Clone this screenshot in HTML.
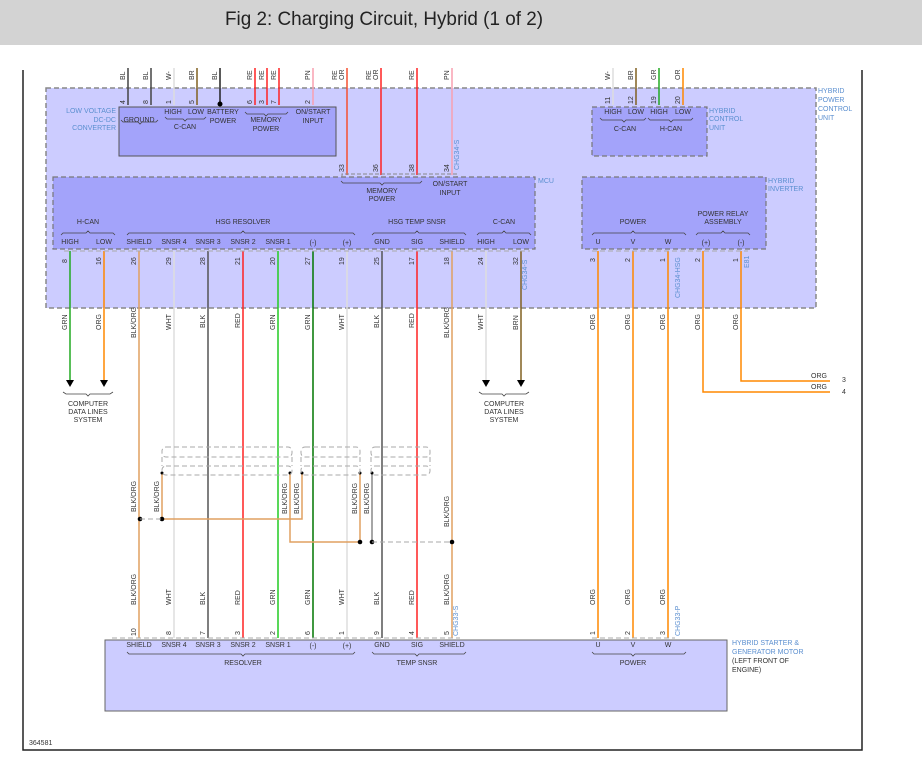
<!DOCTYPE html>
<html><head><meta charset="utf-8"><style>
html,body{margin:0;padding:0;background:#fff;}
svg{display:block;font-family:"Liberation Sans",sans-serif;}
.t{font-size:7px;fill:#333;}
.tb{font-size:7px;fill:#5b8fd0;}
.p{font-size:7px;fill:#333;}
</style></head><body>
<svg width="922" height="780" viewBox="0 0 922 780" xmlns="http://www.w3.org/2000/svg">
<rect x="0" y="0" width="922" height="45" fill="#d3d3d3"/>
<text x="225" y="25" font-size="19" fill="#222" textLength="318" lengthAdjust="spacingAndGlyphs">Fig 2: Charging Circuit, Hybrid (1 of 2)</text>
<path d="M23 70 V750 H862 V70" fill="none" stroke="#222" stroke-width="1.5"/>
<rect x="46" y="88" width="770" height="220" fill="#ccccff" stroke="#888" stroke-width="1.5" stroke-dasharray="5,3"/>
<text class="tb" x="818" y="93">HYBRID</text><text class="tb" x="818" y="102">POWER</text><text class="tb" x="818" y="111">CONTROL</text><text class="tb" x="818" y="120">UNIT</text>
<rect x="119" y="107" width="217" height="49" fill="#a3a3fa" stroke="#555" stroke-width="1"/>
<text class="tb" x="116" y="113" text-anchor="end">LOW VOLTAGE</text><text class="tb" x="116" y="122" text-anchor="end">DC-DC</text><text class="tb" x="116" y="130" text-anchor="end">CONVERTER</text>
<rect x="53" y="177" width="482" height="72" fill="#a3a3fa" stroke="#777" stroke-width="1.2" stroke-dasharray="5,3"/>
<text class="tb" x="538" y="183">MCU</text>
<rect x="592" y="107" width="115" height="49" fill="#a3a3fa" stroke="#777" stroke-width="1.2" stroke-dasharray="5,3"/>
<text class="tb" x="709" y="113">HYBRID</text><text class="tb" x="709" y="121">CONTROL</text><text class="tb" x="709" y="130">UNIT</text>
<rect x="582" y="177" width="184" height="72" fill="#a3a3fa" stroke="#777" stroke-width="1.2" stroke-dasharray="5,3"/>
<text class="tb" x="768" y="183">HYBRID</text><text class="tb" x="768" y="191">INVERTER</text>
<rect x="105" y="640" width="622" height="71" fill="#ccccff" stroke="#666" stroke-width="1"/>
<text class="tb" x="732" y="645">HYBRID STARTER &amp;</text><text class="tb" x="732" y="654">GENERATOR MOTOR</text><text class="t" x="732" y="663">(LEFT FRONT OF</text><text class="t" x="732" y="672">ENGINE)</text>

<g stroke-width="1.5" fill="none">
<line x1="128" y1="68" x2="128" y2="105" stroke="#444"/>
<line x1="151" y1="68" x2="151" y2="105" stroke="#444"/>
<line x1="174" y1="68" x2="174" y2="105" stroke="#ddd"/>
<line x1="197" y1="68" x2="197" y2="105" stroke="#806020"/>
<line x1="220" y1="68" x2="220" y2="104" stroke="#222"/>
<line x1="255" y1="68" x2="255" y2="105" stroke="#f22"/>
<line x1="267" y1="68" x2="267" y2="105" stroke="#f22"/>
<line x1="279" y1="68" x2="279" y2="105" stroke="#f22"/>
<line x1="313" y1="68" x2="313" y2="105" stroke="#f8a0b0"/>
<line x1="347" y1="68" x2="347" y2="175" stroke="#f55030"/>
<line x1="381" y1="68" x2="381" y2="175" stroke="#f22"/>
<line x1="417" y1="68" x2="417" y2="175" stroke="#f22"/>
<line x1="452" y1="68" x2="452" y2="175" stroke="#f8a0b0"/>
<line x1="613" y1="68" x2="613" y2="105" stroke="#ddd"/>
<line x1="636" y1="68" x2="636" y2="105" stroke="#806020"/>
<line x1="659" y1="68" x2="659" y2="105" stroke="#2a2"/>
<line x1="683" y1="68" x2="683" y2="105" stroke="#f80"/>
</g>
<circle cx="220" cy="104" r="2.5" fill="#000"/>
<path d="M342 177 V174 H457 V177" fill="none" stroke="#888" stroke-dasharray="4,2" stroke-width="1"/>
<g class="t">
<text transform="translate(125,80) rotate(-90)">BL</text>
<text transform="translate(148,80) rotate(-90)">BL</text>
<text transform="translate(171,80) rotate(-90)">W-</text>
<text transform="translate(194,80) rotate(-90)">BR</text>
<text transform="translate(217,80) rotate(-90)">BL</text>
<text transform="translate(252,80) rotate(-90)">RE</text>
<text transform="translate(264,80) rotate(-90)">RE</text>
<text transform="translate(276,80) rotate(-90)">RE</text>
<text transform="translate(310,80) rotate(-90)">PN</text>
<text transform="translate(337,80) rotate(-90)">RE</text><text transform="translate(344,80) rotate(-90)">OR</text>
<text transform="translate(371,80) rotate(-90)">RE</text><text transform="translate(378,80) rotate(-90)">OR</text>
<text transform="translate(414,80) rotate(-90)">RE</text>
<text transform="translate(449,80) rotate(-90)">PN</text>
<text transform="translate(610,80) rotate(-90)">W-</text>
<text transform="translate(633,80) rotate(-90)">BR</text>
<text transform="translate(656,80) rotate(-90)">GR</text>
<text transform="translate(680,80) rotate(-90)">OR</text>
<text transform="translate(125,104) rotate(-90)">4</text>
<text transform="translate(148,104) rotate(-90)">8</text>
<text transform="translate(171,104) rotate(-90)">1</text>
<text transform="translate(194,104) rotate(-90)">5</text>
<text transform="translate(252,104) rotate(-90)">6</text>
<text transform="translate(264,104) rotate(-90)">3</text>
<text transform="translate(276,104) rotate(-90)">7</text>
<text transform="translate(310,104) rotate(-90)">2</text>
<text transform="translate(344,172) rotate(-90)">33</text>
<text transform="translate(378,172) rotate(-90)">36</text>
<text transform="translate(414,172) rotate(-90)">38</text>
<text transform="translate(449,172) rotate(-90)">34</text>
<text transform="translate(610,104) rotate(-90)">11</text>
<text transform="translate(633,104) rotate(-90)">12</text>
<text transform="translate(656,104) rotate(-90)">19</text>
<text transform="translate(680,104) rotate(-90)">20</text>
</g>
<text class="tb" transform="translate(459,170) rotate(-90)">CHG34-S</text>
<g class="t" text-anchor="middle">
<text x="139" y="122">GROUND</text>
<text x="173" y="114">HIGH</text><text x="196" y="114">LOW</text><text x="185" y="129">C-CAN</text>
<text x="223" y="114">BATTERY</text><text x="223" y="123">POWER</text>
<text x="266" y="122">MEMORY</text><text x="266" y="131">POWER</text>
<text x="313" y="114">ON/START</text><text x="313" y="123">INPUT</text>
<text x="382" y="193">MEMORY</text><text x="382" y="201">POWER</text>
<text x="450" y="186">ON/START</text><text x="450" y="195">INPUT</text>
<text x="613" y="114">HIGH</text><text x="636" y="114">LOW</text><text x="659" y="114">HIGH</text><text x="683" y="114">LOW</text>
<text x="625" y="131">C-CAN</text><text x="671" y="131">H-CAN</text>
<text x="88" y="224">H-CAN</text>
<text x="243" y="224">HSG RESOLVER</text>
<text x="417" y="224">HSG TEMP SNSR</text>
<text x="504" y="224">C-CAN</text>
<text x="70" y="244">HIGH</text><text x="104" y="244">LOW</text>
<text x="139" y="244">SHIELD</text><text x="174" y="244">SNSR 4</text><text x="208" y="244">SNSR 3</text><text x="243" y="244">SNSR 2</text><text x="278" y="244">SNSR 1</text><text x="313" y="245">(-)</text><text x="347" y="245">(+)</text>
<text x="382" y="244">GND</text><text x="417" y="244">SIG</text><text x="452" y="244">SHIELD</text>
<text x="486" y="244">HIGH</text><text x="521" y="244">LOW</text>
<text x="633" y="224">POWER</text>
<text x="723" y="216">POWER RELAY</text><text x="723" y="224">ASSEMBLY</text>
<text x="598" y="244">U</text><text x="633" y="244">V</text><text x="668" y="244">W</text><text x="706" y="245">(+)</text><text x="741" y="245">(-)</text>
<text x="139" y="647">SHIELD</text><text x="174" y="647">SNSR 4</text><text x="208" y="647">SNSR 3</text><text x="243" y="647">SNSR 2</text><text x="278" y="647">SNSR 1</text><text x="313" y="648">(-)</text><text x="347" y="648">(+)</text>
<text x="382" y="647">GND</text><text x="417" y="647">SIG</text><text x="452" y="647">SHIELD</text>
<text x="243" y="665">RESOLVER</text><text x="417" y="665">TEMP SNSR</text>
<text x="598" y="647">U</text><text x="633" y="647">V</text><text x="668" y="647">W</text><text x="633" y="665">POWER</text>
<text x="88" y="406">COMPUTER</text><text x="88" y="414">DATA LINES</text><text x="88" y="422">SYSTEM</text>
<text x="504" y="406">COMPUTER</text><text x="504" y="414">DATA LINES</text><text x="504" y="422">SYSTEM</text>
</g>
<g fill="none" stroke="#444" stroke-width="0.8">
<path d="M121 120 l2 2 H138 l2 2 l2 -2 H156 l2 -2"/>
<path d="M165 117 l2 2 H183 l2 2 l2 -2 H204 l2 -2"/>
<path d="M245 112 l2 2 H264 l2 2 l2 -2 H286 l2 -2"/>
<path d="M341 181 l2 2 H380 l2 2 l2 -2 H420 l2 -2"/>
<path d="M600 118 l2 2 H622 l2 2 l2 -2 H644 l2 -2"/>
<path d="M648 118 l2 2 H669 l2 2 l2 -2 H691 l2 -2"/>
<path d="M61 235 l2 -2 H86 l2 -2 l2 2 H113 l2 2"/>
<path d="M127 235 l2 -2 H241 l2 -2 l2 2 H353 l2 2"/>
<path d="M372 235 l2 -2 H415 l2 -2 l2 2 H464 l2 2"/>
<path d="M477 235 l2 -2 H502 l2 -2 l2 2 H529 l2 2"/>
<path d="M592 235 l2 -2 H631 l2 -2 l2 2 H684 l2 2"/>
<path d="M696 235 l2 -2 H721 l2 -2 l2 2 H748 l2 2"/>
<path d="M127 652 l2 2 H241 l2 2 l2 -2 H353 l2 -2"/>
<path d="M372 652 l2 2 H415 l2 2 l2 -2 H464 l2 -2"/>
<path d="M592 652 l2 2 H631 l2 2 l2 -2 H684 l2 -2"/>
<path d="M63 392 l3 2 H86 l2 2 l2 -2 H110 l3 -2"/>
<path d="M479 392 l3 2 H502 l2 2 l2 -2 H526 l3 -2"/>
</g>
<g stroke-width="1.5" fill="none">
<line x1="70" y1="251" x2="70" y2="380" stroke="#2a2"/>
<line x1="104" y1="251" x2="104" y2="380" stroke="#f80"/>
<line x1="486" y1="251" x2="486" y2="380" stroke="#ddd"/>
<line x1="521" y1="251" x2="521" y2="380" stroke="#806020"/>
<line x1="139" y1="251" x2="139" y2="638" stroke="#e0a060"/>
<line x1="174" y1="251" x2="174" y2="638" stroke="#ddd"/>
<line x1="208" y1="251" x2="208" y2="638" stroke="#555"/>
<line x1="243" y1="251" x2="243" y2="638" stroke="#f22"/>
<line x1="278" y1="251" x2="278" y2="638" stroke="#2c2"/>
<line x1="313" y1="251" x2="313" y2="638" stroke="#070"/>
<line x1="347" y1="251" x2="347" y2="638" stroke="#ddd"/>
<line x1="382" y1="251" x2="382" y2="638" stroke="#555"/>
<line x1="417" y1="251" x2="417" y2="638" stroke="#f22"/>
<line x1="452" y1="251" x2="452" y2="638" stroke="#e0a060"/>
<line x1="598" y1="251" x2="598" y2="638" stroke="#f80"/>
<line x1="633" y1="251" x2="633" y2="638" stroke="#f80"/>
<line x1="668" y1="251" x2="668" y2="638" stroke="#f80"/>
<path d="M703 251 V392 H830" stroke="#f80"/>
<path d="M741 251 V381 H830" stroke="#f80"/>
<path d="M162 473 V519 H302 V473" stroke="#e0a060"/>
<path d="M290 473 V542 H360 V473" stroke="#e0a060"/>
<path d="M372 473 V542" stroke="#888"/>
</g>
<g fill="#000">
<path d="M66 380 h8 l-4 7z"/><path d="M100 380 h8 l-4 7z"/><path d="M482 380 h8 l-4 7z"/><path d="M517 380 h8 l-4 7z"/>
<circle cx="140" cy="519" r="2.3"/><circle cx="162" cy="519" r="2.3"/>
<circle cx="360" cy="542" r="2.3"/><circle cx="372" cy="542" r="2.3"/><circle cx="452" cy="542" r="2.3"/>
<circle cx="162" cy="473" r="1.5"/><circle cx="290" cy="473" r="1.5"/><circle cx="302" cy="473" r="1.5"/><circle cx="360" cy="473" r="1.5"/><circle cx="372" cy="473" r="1.5"/>
</g>
<g fill="none" stroke="#aaa" stroke-width="1" stroke-dasharray="5,3">
<line x1="140" y1="519" x2="162" y2="519"/><line x1="372" y1="542" x2="452" y2="542"/>
<rect x="162" y="447" width="130" height="10" rx="4"/><rect x="162" y="466" width="130" height="9" rx="4"/>
<rect x="301" y="447" width="59" height="10" rx="4"/><rect x="301" y="466" width="59" height="9" rx="4"/>
<rect x="371" y="447" width="59" height="10" rx="4"/><rect x="371" y="466" width="59" height="9" rx="4"/>
<line x1="162" y1="457" x2="162" y2="466"/><line x1="292" y1="457" x2="292" y2="466"/>
<line x1="301" y1="457" x2="301" y2="466"/><line x1="360" y1="457" x2="360" y2="466"/>
<line x1="371" y1="457" x2="371" y2="466"/><line x1="430" y1="457" x2="430" y2="466"/>
<line x1="112" y1="638" x2="460" y2="638"/><line x1="592" y1="638" x2="675" y2="638"/>
<line x1="64" y1="251" x2="530" y2="251"/><line x1="592" y1="251" x2="748" y2="251"/>
</g>
<g class="t">
<text transform="translate(67,330) rotate(-90)">GRN</text>
<text transform="translate(101,330) rotate(-90)">ORG</text>
<text transform="translate(136,338) rotate(-90)">BLK/ORG</text>
<text transform="translate(171,330) rotate(-90)">WHT</text>
<text transform="translate(205,328) rotate(-90)">BLK</text>
<text transform="translate(240,328) rotate(-90)">RED</text>
<text transform="translate(275,330) rotate(-90)">GRN</text>
<text transform="translate(310,330) rotate(-90)">GRN</text>
<text transform="translate(344,330) rotate(-90)">WHT</text>
<text transform="translate(379,328) rotate(-90)">BLK</text>
<text transform="translate(414,328) rotate(-90)">RED</text>
<text transform="translate(449,338) rotate(-90)">BLK/ORG</text>
<text transform="translate(483,330) rotate(-90)">WHT</text>
<text transform="translate(518,330) rotate(-90)">BRN</text>
<text transform="translate(595,330) rotate(-90)">ORG</text>
<text transform="translate(630,330) rotate(-90)">ORG</text>
<text transform="translate(665,330) rotate(-90)">ORG</text>
<text transform="translate(700,330) rotate(-90)">ORG</text>
<text transform="translate(738,330) rotate(-90)">ORG</text>
<text x="811" y="378">ORG</text><text x="811" y="389">ORG</text>
<text x="842" y="382">3</text><text x="842" y="394">4</text>
<text transform="translate(136,512) rotate(-90)">BLK/ORG</text>
<text transform="translate(159,512) rotate(-90)">BLK/ORG</text>
<text transform="translate(287,514) rotate(-90)">BLK/ORG</text>
<text transform="translate(299,514) rotate(-90)">BLK/ORG</text>
<text transform="translate(357,514) rotate(-90)">BLK/ORG</text>
<text transform="translate(369,514) rotate(-90)">BLK/ORG</text>
<text transform="translate(449,527) rotate(-90)">BLK/ORG</text>
<text transform="translate(136,605) rotate(-90)">BLK/ORG</text>
<text transform="translate(171,605) rotate(-90)">WHT</text>
<text transform="translate(205,605) rotate(-90)">BLK</text>
<text transform="translate(240,605) rotate(-90)">RED</text>
<text transform="translate(275,605) rotate(-90)">GRN</text>
<text transform="translate(310,605) rotate(-90)">GRN</text>
<text transform="translate(344,605) rotate(-90)">WHT</text>
<text transform="translate(379,605) rotate(-90)">BLK</text>
<text transform="translate(414,605) rotate(-90)">RED</text>
<text transform="translate(449,605) rotate(-90)">BLK/ORG</text>
<text transform="translate(595,605) rotate(-90)">ORG</text>
<text transform="translate(630,605) rotate(-90)">ORG</text>
<text transform="translate(665,605) rotate(-90)">ORG</text>
<text transform="translate(67,263) rotate(-90)">8</text>
<text transform="translate(101,265) rotate(-90)">16</text>
<text transform="translate(136,265) rotate(-90)">26</text>
<text transform="translate(171,265) rotate(-90)">29</text>
<text transform="translate(205,265) rotate(-90)">28</text>
<text transform="translate(240,265) rotate(-90)">21</text>
<text transform="translate(275,265) rotate(-90)">20</text>
<text transform="translate(310,265) rotate(-90)">27</text>
<text transform="translate(344,265) rotate(-90)">19</text>
<text transform="translate(379,265) rotate(-90)">25</text>
<text transform="translate(414,265) rotate(-90)">17</text>
<text transform="translate(449,265) rotate(-90)">18</text>
<text transform="translate(483,265) rotate(-90)">24</text>
<text transform="translate(518,265) rotate(-90)">32</text>
<text transform="translate(595,262) rotate(-90)">3</text>
<text transform="translate(630,262) rotate(-90)">2</text>
<text transform="translate(665,262) rotate(-90)">1</text>
<text transform="translate(700,262) rotate(-90)">2</text>
<text transform="translate(738,262) rotate(-90)">1</text>
<text transform="translate(136,636) rotate(-90)">10</text>
<text transform="translate(171,635) rotate(-90)">8</text>
<text transform="translate(205,635) rotate(-90)">7</text>
<text transform="translate(240,635) rotate(-90)">3</text>
<text transform="translate(275,635) rotate(-90)">2</text>
<text transform="translate(310,635) rotate(-90)">6</text>
<text transform="translate(344,635) rotate(-90)">1</text>
<text transform="translate(379,635) rotate(-90)">9</text>
<text transform="translate(414,635) rotate(-90)">4</text>
<text transform="translate(449,635) rotate(-90)">5</text>
<text transform="translate(595,635) rotate(-90)">1</text>
<text transform="translate(630,635) rotate(-90)">2</text>
<text transform="translate(665,635) rotate(-90)">3</text>
</g>
<g class="tb">
<text transform="translate(527,290) rotate(-90)">CHG34-S</text>
<text transform="translate(680,298) rotate(-90)">CHG34-HSG</text>
<text transform="translate(749,268) rotate(-90)">E81</text>
<text transform="translate(458,636) rotate(-90)">CHG33-S</text>
<text transform="translate(680,636) rotate(-90)">CHG33-P</text>
</g>
<text x="29" y="745" font-size="7" fill="#333">364581</text>
</svg>
</body></html>
